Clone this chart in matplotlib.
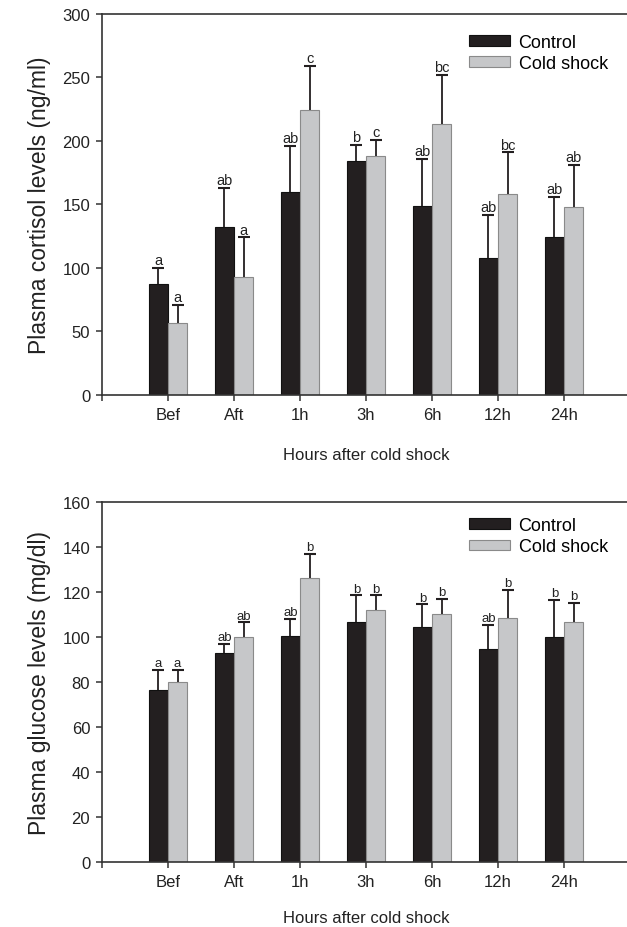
import numpy as np
import matplotlib
matplotlib.use('Agg')
import matplotlib.pyplot as plt

plt.rcParams['font.family'] = ['Liberation Sans', 'DejaVu Sans']

# categories (hours after cold shock)
hours = ['Bef', 'Aft', '1h', '3h', '6h', '12h', '24h']

# plasma cortisol (ng/ml)
cort_ctrl = [87, 132, 160, 184, 149, 108, 124]
cort_ctrl_err = [13, 31, 36, 13, 37, 34, 32]
cort_cold = [57, 93, 224, 188, 213, 158, 148]
cort_cold_err = [14, 31, 35, 13, 39, 33, 33]
cort_ctrl_lab = ['a', 'ab', 'ab', 'b', 'ab', 'ab', 'ab']
cort_cold_lab = ['a', 'a', 'c', 'c', 'bc', 'bc', 'ab']

# plasma glucose (mg/dl)
gluc_ctrl = [76.5, 93, 100.5, 106.5, 104.5, 94.5, 100]
gluc_ctrl_err = [9, 3.8, 7.5, 12, 10, 11, 16.5]
gluc_cold = [80, 100, 126, 112, 110, 108.5, 106.5]
gluc_cold_err = [5.5, 6.5, 11, 6.5, 7, 12.5, 8.5]
gluc_ctrl_lab = ['a', 'ab', 'ab', 'b', 'b', 'ab', 'b']
gluc_cold_lab = ['a', 'ab', 'b', 'b', 'b', 'b', 'b']

C_DARK = '#231f20'
C_LIGHT = '#c6c7c9'
C_AX = '#333333'


def panel(ax, ctrl, ctrl_err, cold, cold_err, lab_c, lab_s, ymax, ystep, ylabel, lab_fs, leg_y, xpad):
    x = np.arange(len(hours))
    w = 0.29
    cap = 0.09
    b1 = ax.bar(x - w/2, ctrl, w, color=C_DARK, edgecolor='#111111', linewidth=0.8, label='Control', zorder=2)
    b2 = ax.bar(x + w/2, cold, w, color=C_LIGHT, edgecolor='#8a8a8a', linewidth=0.8, label='Cold shock', zorder=2)
    # upper error bars only
    for xs, v, e, labs in [(x - w/2, ctrl, ctrl_err, lab_c), (x + w/2, cold, cold_err, lab_s)]:
        top = np.array(v) + np.array(e)
        ax.vlines(xs, v, top, color=C_DARK, linewidth=1.3, zorder=3)
        ax.hlines(top, xs - cap, xs + cap, color=C_DARK, linewidth=1.5, zorder=3)
        for xi, ti, t in zip(xs, top, labs):
            ax.annotate(t, (xi, ti), xytext=(0, 0.5), textcoords='offset points',
                        ha='center', va='bottom', fontsize=lab_fs, color='#222222')

    ax.set_xlim(-1, 7)
    ax.set_ylim(0, ymax)
    ax.set_yticks(np.arange(0, ymax + 1, ystep))
    ax.set_xticks(np.arange(-1, 8))
    ax.set_xticklabels([''] + hours + [''])
    ax.tick_params(direction='out', length=4.5, width=1.1, color=C_AX, labelsize=12,
                   labelcolor='#222222', pad=4)
    for s in ['left', 'bottom', 'top']:
        ax.spines[s].set_color(C_AX)
        ax.spines[s].set_linewidth(1.2)
    ax.spines['right'].set_visible(False)
    ax.set_ylabel(ylabel, fontsize=16.5, color='#222222', labelpad=8)
    ax.set_xlabel('Hours after cold shock', fontsize=12, color='#222222', labelpad=xpad)
    ax.legend(handles=[b1, b2], loc='upper left', bbox_to_anchor=(0.695, leg_y), frameon=False,
              fontsize=13, handlelength=2.3, handleheight=0.55, handletextpad=0.45,
              labelspacing=0.25, borderpad=0, borderaxespad=0)


fig = plt.figure(figsize=(6.27, 9.28), dpi=100)
ax1 = fig.add_axes([102/627, 0.5733, 528/627, 0.4106])
ax2 = fig.add_axes([102/627, 0.0697, 528/627, 0.3886])

panel(ax1, cort_ctrl, cort_ctrl_err, cort_cold, cort_cold_err, cort_ctrl_lab, cort_cold_lab,
      300, 50, 'Plasma cortisol levels (ng/ml)', 10.5, 0.948, 18)
panel(ax2, gluc_ctrl, gluc_ctrl_err, gluc_cold, gluc_cold_err, gluc_ctrl_lab, gluc_cold_lab,
      160, 20, 'Plasma glucose levels (mg/dl)', 9.5, 0.958, 15)

fig.savefig('out.png', dpi=100)
